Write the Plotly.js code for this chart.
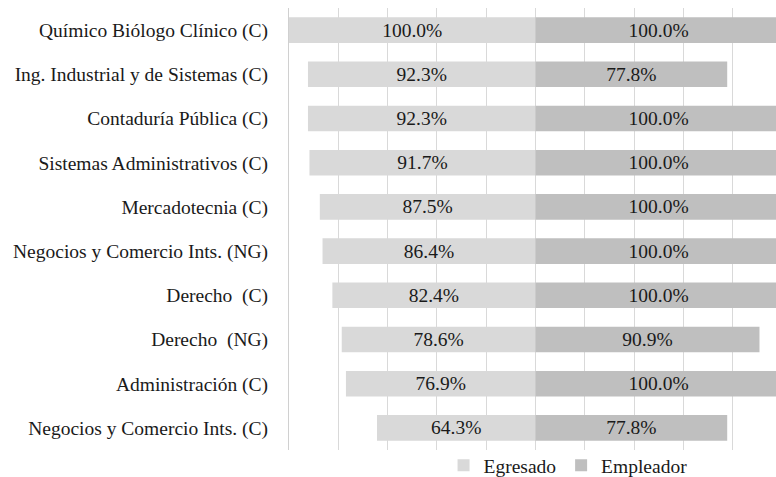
<!DOCTYPE html>
<html>
<head>
<meta charset="utf-8">
<script src="https://cdn.plot.ly/plotly-3.0.1.min.js"></script>
<style>html,body{margin:0;padding:0;background:#fff;}#chart{width:776px;height:477px;}</style>
</head>
<body>
<div id="chart"></div>
<script>
const categories = [
  "Químico Biólogo Clínico (C)",
  "Ing. Industrial y de Sistemas (C)",
  "Contaduría Pública (C)",
  "Sistemas Administrativos (C)",
  "Mercadotecnia (C)",
  "Negocios y Comercio Ints. (NG)",
  "Derecho  (C)",
  "Derecho  (NG)",
  "Administración (C)",
  "Negocios y Comercio Ints. (C)"
];
const egresado = [100.0, 92.3, 92.3, 91.7, 87.5, 86.4, 82.4, 78.6, 76.9, 64.3];
const empleador = [100.0, 77.8, 100.0, 100.0, 100.0, 100.0, 100.0, 90.9, 100.0, 77.8];

const serif = "Liberation Serif, Times New Roman, serif";
const fs = 19.5;

const traces = [
  {
    type: "bar", orientation: "h", name: "Egresado",
    y: categories, x: egresado.map(v => -v),
    text: egresado.map(v => v.toFixed(1) + "%"),
    textposition: "inside", insidetextanchor: "middle", constraintext: "none",
    textfont: {family: serif, size: fs, color: "#1a1a1a"},
    marker: {color: "#d9d9d9"},
    hoverinfo: "skip"
  },
  {
    type: "bar", orientation: "h", name: "Empleador",
    y: categories, x: empleador,
    text: empleador.map(v => v.toFixed(1) + "%"),
    textposition: "inside", insidetextanchor: "middle", constraintext: "none",
    textfont: {family: serif, size: fs, color: "#1a1a1a"},
    marker: {color: "#bfbfbf"},
    hoverinfo: "skip"
  }
];

const layout = {
  width: 776, height: 477,
  margin: {l: 289, r: 0, t: 8, b: 27, autoexpand: false},
  barmode: "relative",
  bargap: 0.42,
  paper_bgcolor: "#fff", plot_bgcolor: "#fff",
  font: {family: serif, size: fs, color: "#1a1a1a"},
  xaxis: {
    range: [-100, 97.6], dtick: 20, tick0: 0,
    showticklabels: false, showgrid: true, gridcolor: "#d9d9d9",
    zeroline: false, ticks: "", fixedrange: true
  },
  yaxis: {
    autorange: "reversed", showgrid: false, zeroline: false,
    showline: true, linecolor: "#d0d0d0", linewidth: 1,
    ticks: "", ticklabelstandoff: 16,
    tickfont: {family: serif, size: fs, color: "#1a1a1a"}
  },
  legend: {
    orientation: "h", x: 0.573, xanchor: "center", y: 0.009, yanchor: "top",
    font: {family: serif, size: fs, color: "#1a1a1a"},
    itemwidth: 30, traceorder: "normal", bgcolor: "rgba(0,0,0,0)"
  },
  showlegend: true
};

Plotly.newPlot("chart", traces, layout, {displayModeBar: false, staticPlot: true});
</script>
</body>
</html>
